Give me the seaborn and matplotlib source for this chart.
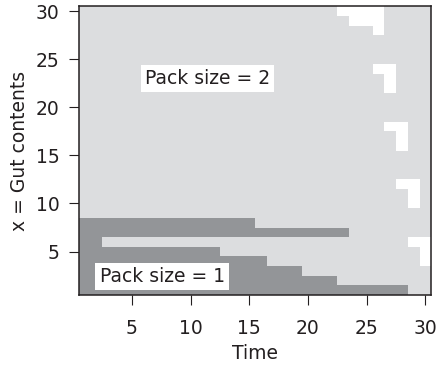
import numpy as np
import pandas as pd
import matplotlib
matplotlib.use("Agg")
import matplotlib.pyplot as plt
from matplotlib.colors import ListedColormap
import seaborn as sns

# Time steps and gut-content levels
time_steps = list(range(1, 31))
gut_levels = list(range(1, 31))

# Pack size 1 is optimal for t <= the last time given, per gut level
pack1_levels = [1, 2, 3, 4, 5, 6, 7, 8]
pack1_last_time = [28, 22, 19, 16, 12, 2, 23, 15]

# Cells where no pack is formed: (gut level, first time, last time)
none_levels = [30, 29, 28, 24, 23, 22, 18, 17, 16, 12, 11, 10, 6, 5, 4]
none_first = [23, 24, 26, 26, 27, 27, 27, 28, 28, 28, 29, 29, 29, 30, 30]
none_last = [26, 26, 26, 27, 27, 27, 28, 28, 28, 29, 29, 29, 30, 30, 30]

# Decision grid: 2 = pack size 2, 1 = pack size 1, 0 = none
grid = pd.DataFrame(2, index=gut_levels[::-1], columns=time_steps)
for lvl, last in zip(pack1_levels, pack1_last_time):
    grid.loc[lvl, 1:last] = 1
for lvl, first, last in zip(none_levels, none_first, none_last):
    grid.loc[lvl, first:last] = 0

sns.set_style("white")
plt.rcParams["font.family"] = ["DejaVu Sans"]
ink = "#231f20"

fig = plt.figure(figsize=(4.46, 3.70), dpi=100)
ax = fig.add_axes([0.177, 0.203, 0.790, 0.780])

# colours for 0 (none), 1 (pack size 1), 2 (pack size 2)
cmap = ListedColormap(["#ffffff", "#939598", "#dcdddf"])
sns.heatmap(grid, cmap=cmap, vmin=-0.5, vmax=2.5, cbar=False, ax=ax,
            xticklabels=False, yticklabels=False)

ax.set_xlim(0, 30)
ax.set_ylim(30, 0)

xt = [5, 10, 15, 20, 25, 30]
yt = [5, 10, 15, 20, 25, 30]
ax.set_xticks([t - 0.5 for t in xt])
ax.set_xticklabels([str(t) for t in xt])
ax.set_yticks([30.5 - v for v in yt])
ax.set_yticklabels([str(v) for v in yt], rotation=0)

for s in ax.spines.values():
    s.set_visible(True)
    s.set_color(ink)
    s.set_linewidth(1.1)

ax.tick_params(axis="both", direction="out", length=7, width=0.8,
               color=ink, labelcolor=ink, labelsize=13.5)
ax.tick_params(axis="x", pad=10, bottom=True)
ax.tick_params(axis="y", pad=7, left=True)

ax.set_xlabel("Time", fontsize=13.5, color=ink, labelpad=5)
ax.set_ylabel("x = Gut contents", fontsize=13.5, color=ink, labelpad=5)

box = dict(facecolor="white", edgecolor="none", pad=3)
ax.text(10.95, 7.5, "Pack size = 2", ha="center", va="center",
        fontsize=13.5, color=ink, bbox=box)
ax.text(7.08, 28.1, "Pack size = 1", ha="center", va="center",
        fontsize=13.5, color=ink, bbox=box)

fig.savefig("out.png", dpi=100)
